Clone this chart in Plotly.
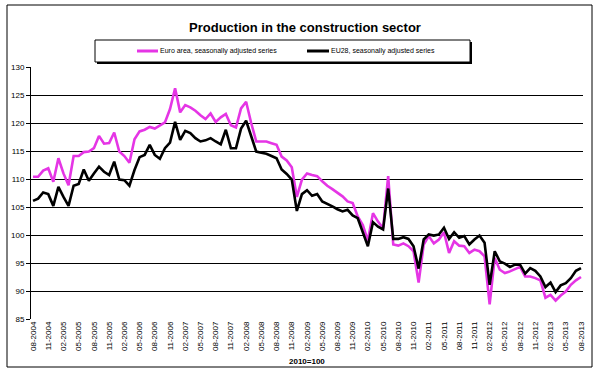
import plotly.graph_objects as go

# Monthly categories 08-2004 .. 08-2013
categories = []
y, m = 2004, 8
while (y, m) <= (2013, 8):
    categories.append(f"{m:02d}-{y}")
    m += 1
    if m > 12:
        m, y = 1, y + 1

euro_area = [
    110.4, 110.4, 111.5, 111.9, 109.5, 113.7, 111.0, 108.9, 114.1, 114.1,
    114.8, 114.9, 115.5, 117.7, 116.3, 116.4, 118.3, 114.9, 114.1, 112.9,
    117.1, 118.5, 118.8, 119.3, 119.0, 119.6, 120.1, 122.5, 126.2, 121.9,
    123.2, 122.8, 122.2, 121.4, 120.7, 121.7, 120.2, 121.0, 121.6, 119.6,
    119.2, 122.6, 123.8, 120.0, 116.7, 116.7, 116.7, 116.4, 116.1, 114.0,
    113.3, 112.1, 106.8, 109.9, 111.0, 110.7, 110.5, 109.6, 108.8, 108.2,
    107.5, 106.9, 106.0, 105.7, 103.3, 101.8, 99.0, 103.9, 102.4, 101.2,
    110.5, 98.3, 98.1, 98.5, 98.0, 97.1, 91.5, 98.3, 99.8, 98.5,
    99.2, 100.5, 96.8, 98.9, 98.1, 98.0, 96.8, 97.4, 97.1, 96.2,
    87.6, 95.9, 93.8, 93.2, 93.5, 93.9, 94.3, 92.6, 92.6, 92.3,
    91.9, 88.8, 89.3, 88.3, 89.2, 89.9, 91.1, 91.9, 92.5,
]

eu28 = [
    106.1, 106.5, 107.6, 107.3, 105.2, 108.6, 106.8, 105.2, 108.8, 109.1,
    111.7, 109.7, 111.0, 112.2, 111.3, 110.7, 113.1, 109.9, 109.8, 108.8,
    111.6, 113.9, 114.3, 116.1, 114.3, 113.6, 115.5, 116.5, 120.2, 117.0,
    118.6, 118.2, 117.3, 116.7, 116.9, 117.3, 116.7, 116.2, 118.8, 115.5,
    115.5, 119.0, 120.4, 117.6, 114.9, 114.7, 114.5, 114.1, 113.7, 111.7,
    110.9, 109.9, 104.3, 107.3, 108.0, 107.0, 107.3, 106.0, 105.6, 105.1,
    104.6, 104.2, 104.5, 103.5, 103.0, 100.4, 98.0, 102.3, 101.5, 101.0,
    108.3, 99.3, 99.3, 99.6, 99.3, 98.0, 94.0, 99.2, 100.1, 99.9,
    100.1, 101.3, 99.3, 100.5, 99.5, 99.8, 98.3, 99.2, 99.9, 98.6,
    91.1, 97.1, 95.3, 94.9, 94.3, 94.7, 94.7, 93.1, 94.1, 93.6,
    92.6, 90.7, 91.5, 89.8, 91.0, 91.4, 92.3, 93.6, 94.1,
]

y_ticks = [85, 90, 95, 100, 105, 110, 115, 120, 125, 130]
tick_idx = list(range(0, len(categories), 3))
tick_labels = [categories[i] for i in tick_idx]

series_names = ["Euro area, seasonally adjusted series", "EU28, seasonally adjusted series"]
PINK = "#E535E5"
FONT = "Liberation Sans"

W, H = 601, 379
L, R, T, B = 31, 583, 67, 319


def px(xp):
    return (xp - L) / (R - L)


def py(yp):
    return (B - yp) / (B - T)


x = list(range(len(categories)))
fig = go.Figure()
fig.add_trace(go.Scatter(x=x, y=euro_area, mode="lines", name=series_names[0],
                         line=dict(color=PINK, width=2.6), showlegend=False))
fig.add_trace(go.Scatter(x=x, y=eu28, mode="lines", name=series_names[1],
                         line=dict(color="black", width=2.6), showlegend=False))

shapes = []
# outer frame
shapes.append(dict(type="rect", xref="paper", yref="paper", x0=px(7), x1=px(592),
                   y0=py(367), y1=py(5), line=dict(color="black", width=1)))
# legend box with shadow
shapes.append(dict(type="rect", xref="paper", yref="paper", x0=px(97), x1=px(472),
                   y0=py(64), y1=py(42), fillcolor="black", line=dict(width=0)))
shapes.append(dict(type="rect", xref="paper", yref="paper", x0=px(95), x1=px(470),
                   y0=py(62), y1=py(40), fillcolor="white", line=dict(color="black", width=1)))
# legend samples
shapes.append(dict(type="line", xref="paper", yref="paper", x0=px(137), x1=px(158),
                   y0=py(51), y1=py(51), line=dict(color=PINK, width=3)))
shapes.append(dict(type="line", xref="paper", yref="paper", x0=px(307), x1=px(329),
                   y0=py(51), y1=py(51), line=dict(color="black", width=3)))

annotations = [
    dict(text=series_names[0], x=px(158), y=py(51), xref="paper", yref="paper",
         xanchor="left", yanchor="middle", showarrow=False,
         font=dict(family=FONT, size=7, color="black")),
    dict(text=series_names[1], x=px(329), y=py(51), xref="paper", yref="paper",
         xanchor="left", yanchor="middle", showarrow=False,
         font=dict(family=FONT, size=7, color="black")),
    dict(text="<b>2010=100</b>", x=px(307), y=py(361), xref="paper", yref="paper",
         xanchor="center", yanchor="middle", showarrow=False,
         font=dict(family=FONT, size=8, color="black")),
]

fig.update_layout(
    width=W, height=H,
    margin=dict(l=L, r=W - R, t=T, b=H - B, pad=0),
    paper_bgcolor="white", plot_bgcolor="white",
    title=dict(text="<b>Production in the construction sector</b>",
               x=px(305), xref="paper", xanchor="center",
               y=1 - 27 / H, yref="container", yanchor="middle",
               font=dict(family="Liberation Sans Narrow, Liberation Sans", size=13, color="black")),
    shapes=shapes, annotations=annotations,
    xaxis=dict(range=[-0.4, len(categories) - 1 + 0.4], tickmode="array",
               tickvals=tick_idx, ticktext=tick_labels, tickangle=-90,
               tickfont=dict(family=FONT, size=8, color="black"),
               showgrid=False, zeroline=False, showline=False,
               ticks="", fixedrange=True),
    yaxis=dict(range=[85, 130], tickmode="array", tickvals=y_ticks,
               tickfont=dict(family=FONT, size=8, color="black"),
               showgrid=True, gridcolor="black", gridwidth=1,
               zeroline=False, showline=True, linecolor="black", linewidth=1,
               ticks="outside", ticklen=4, tickcolor="black"),
)

fig.write_html("out.html", config={"displayModeBar": False},
               post_script="document.body.style.margin='0';document.body.style.padding='0';")
